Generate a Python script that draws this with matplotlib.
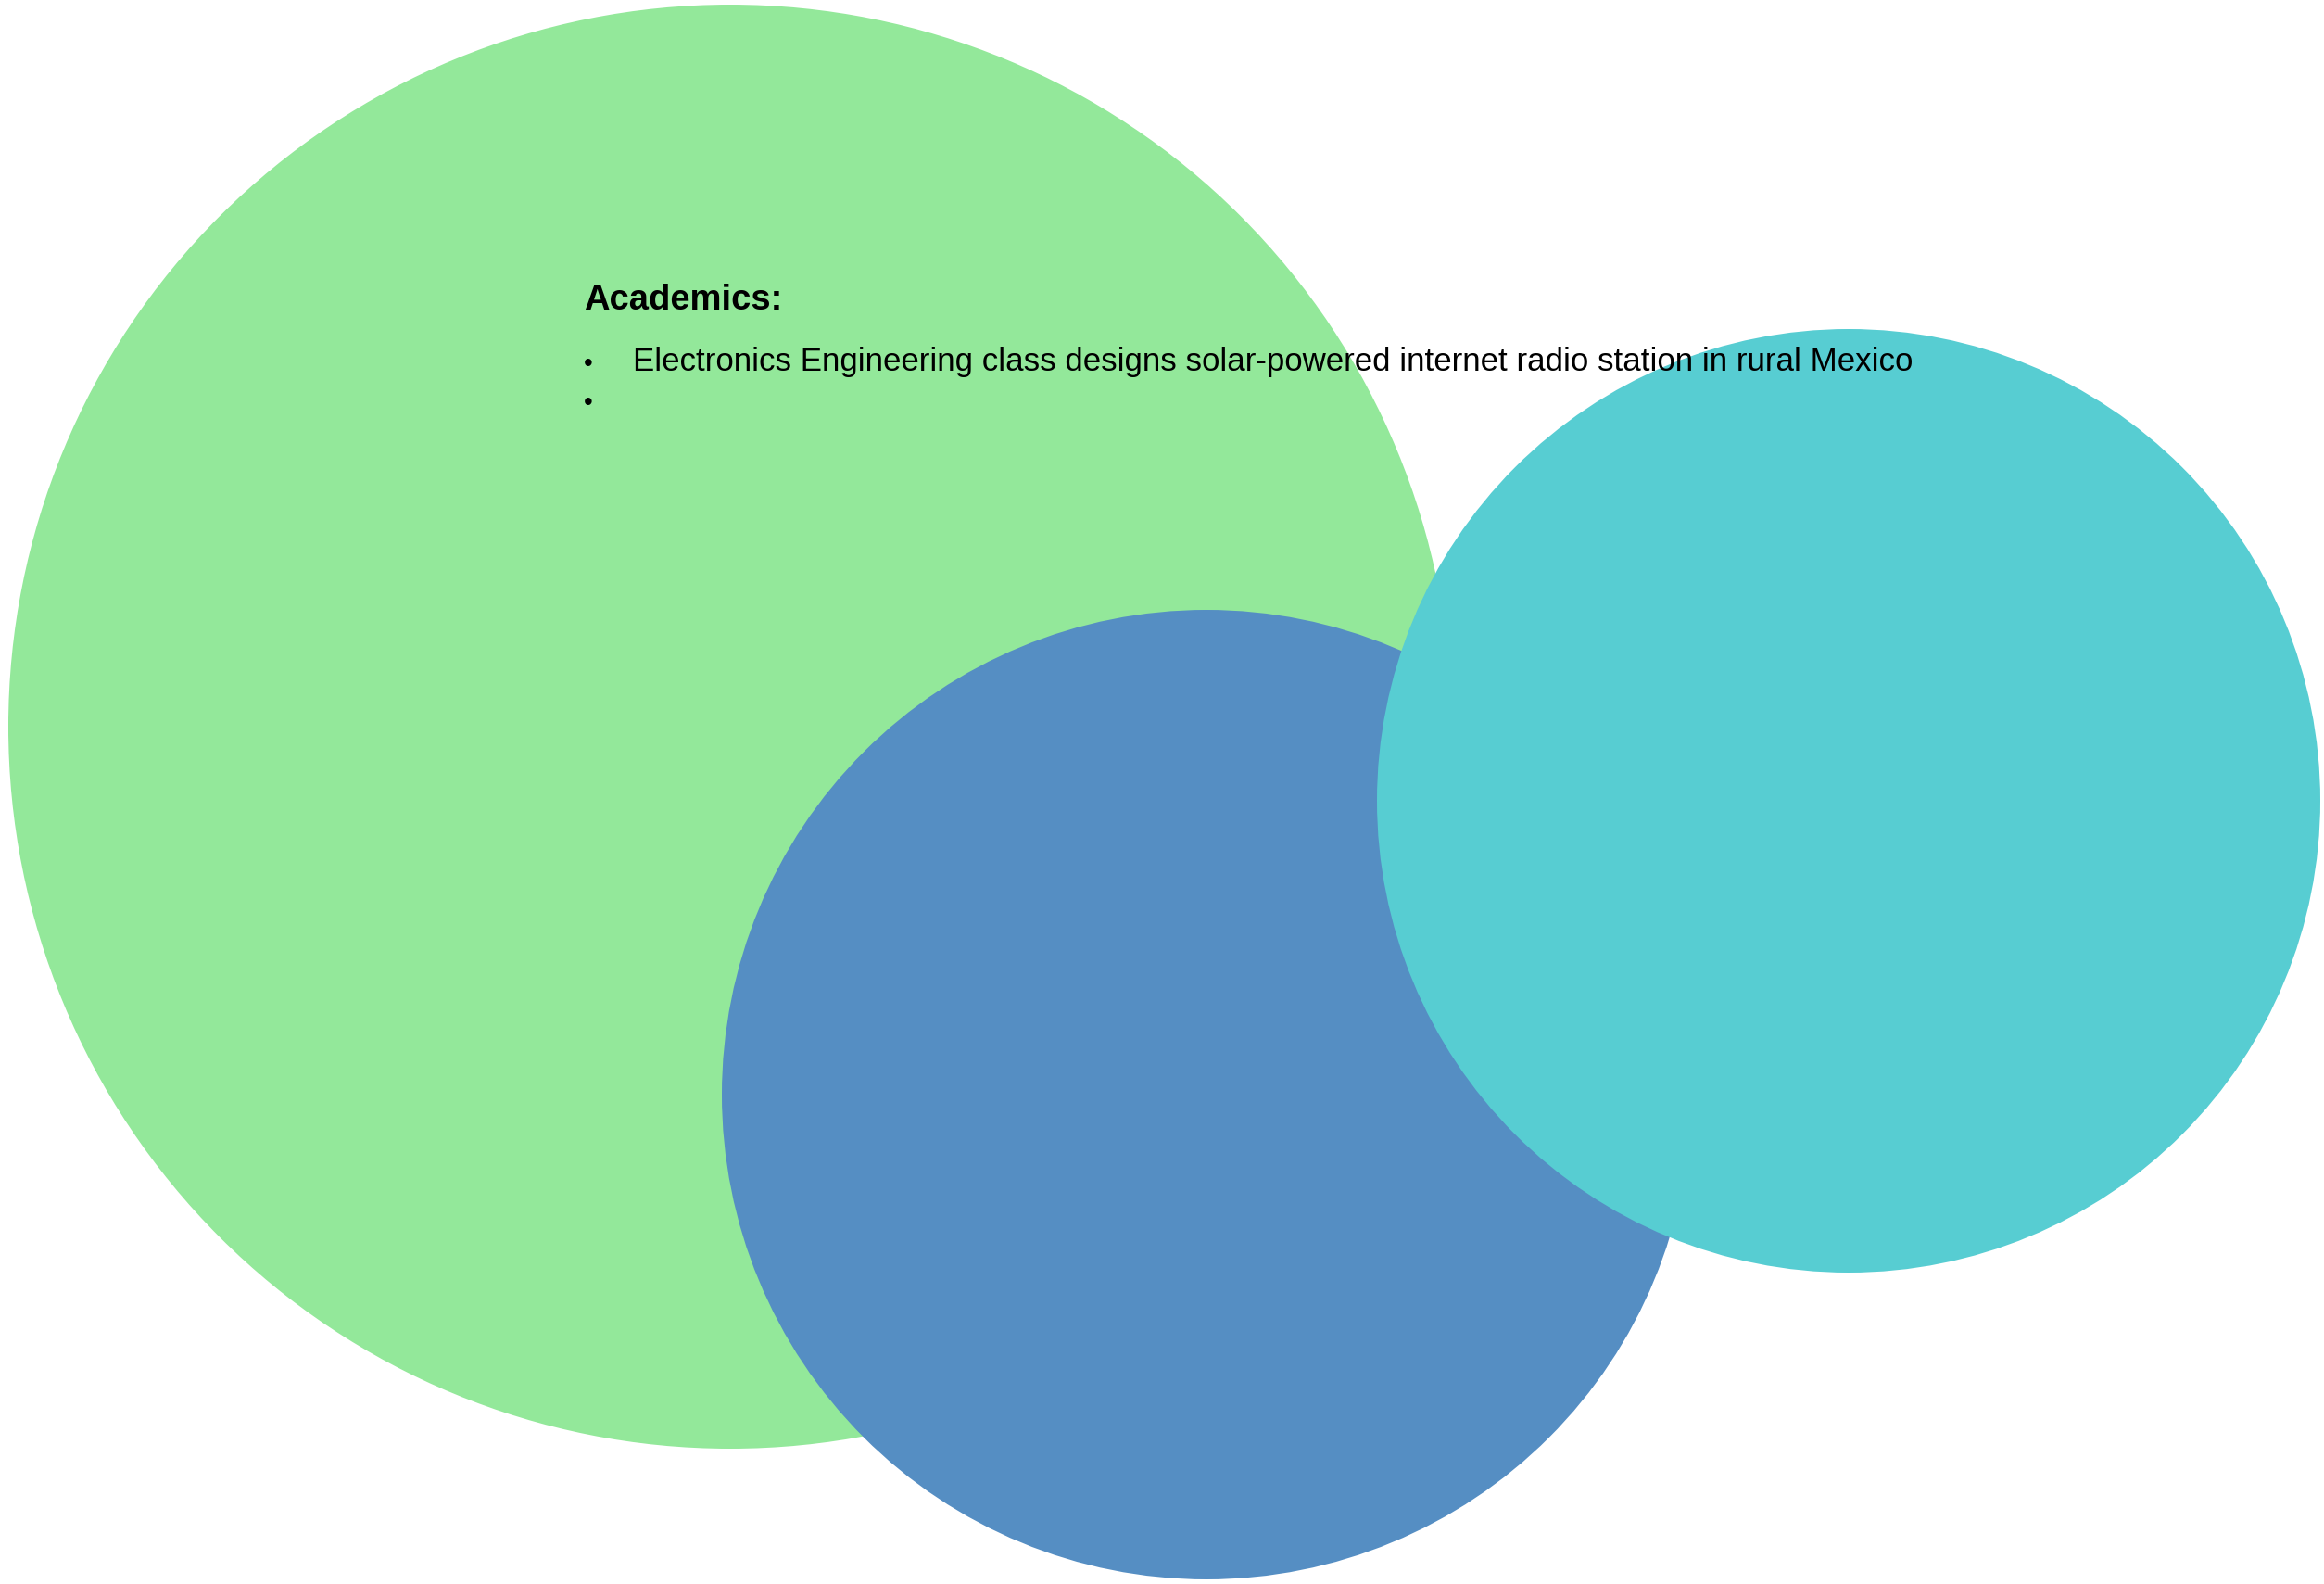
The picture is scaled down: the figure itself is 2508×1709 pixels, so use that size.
import matplotlib
matplotlib.use("Agg")
import matplotlib.pyplot as plt
from matplotlib.patches import Circle

# Bubble data (pixel space of the 2508x1709 canvas)
bubble_names = ["Academics", "Research", "Outreach"]
bubble_x = [788, 1302, 1995]
bubble_y = [784, 1181, 864]
bubble_r = [779, 523, 509]
bubble_colors = ["#93E89A", "#558EC3", "#57CDD2"]

title_text = "Academics:"
bullet_items = [
    "Electronics Engineering class designs solar-powered internet radio station in rural Mexico",
    "",
]

W, H = 2508, 1709
fig = plt.figure(figsize=(W / 100, H / 100), dpi=100)
ax = fig.add_axes([0, 0, 1, 1])
ax.set_xlim(0, W)
ax.set_ylim(H, 0)
ax.set_aspect("equal")
ax.axis("off")

for x, y, r, c in zip(bubble_x, bubble_y, bubble_r, bubble_colors):
    ax.add_patch(Circle((x, y), r, facecolor=c, edgecolor="none"))

font = ["Liberation Sans Narrow", "Liberation Sans", "DejaVu Sans"]
renderer = fig.canvas.get_renderer()


def fit_text(t, target_w):
    # shrink/grow the font so the text spans the width seen in the reference
    w = t.get_window_extent(renderer).width
    t.set_fontsize(t.get_fontsize() * target_w / w)


title = ax.text(630, 334, title_text, fontsize=29, fontweight="bold",
                family=font, va="baseline", ha="left", color="black")
fit_text(title, 214)

for i, item in enumerate(bullet_items):
    yb = 400 + i * 42
    ax.text(635, yb, "\u2022", fontsize=20, family=font, va="baseline",
            ha="center", color="black")
    if item:
        t = ax.text(683, yb, item, fontsize=27, family=font, va="baseline",
                    ha="left", color="black")
        fit_text(t, 1379)

fig.savefig("out.png", dpi=100)
